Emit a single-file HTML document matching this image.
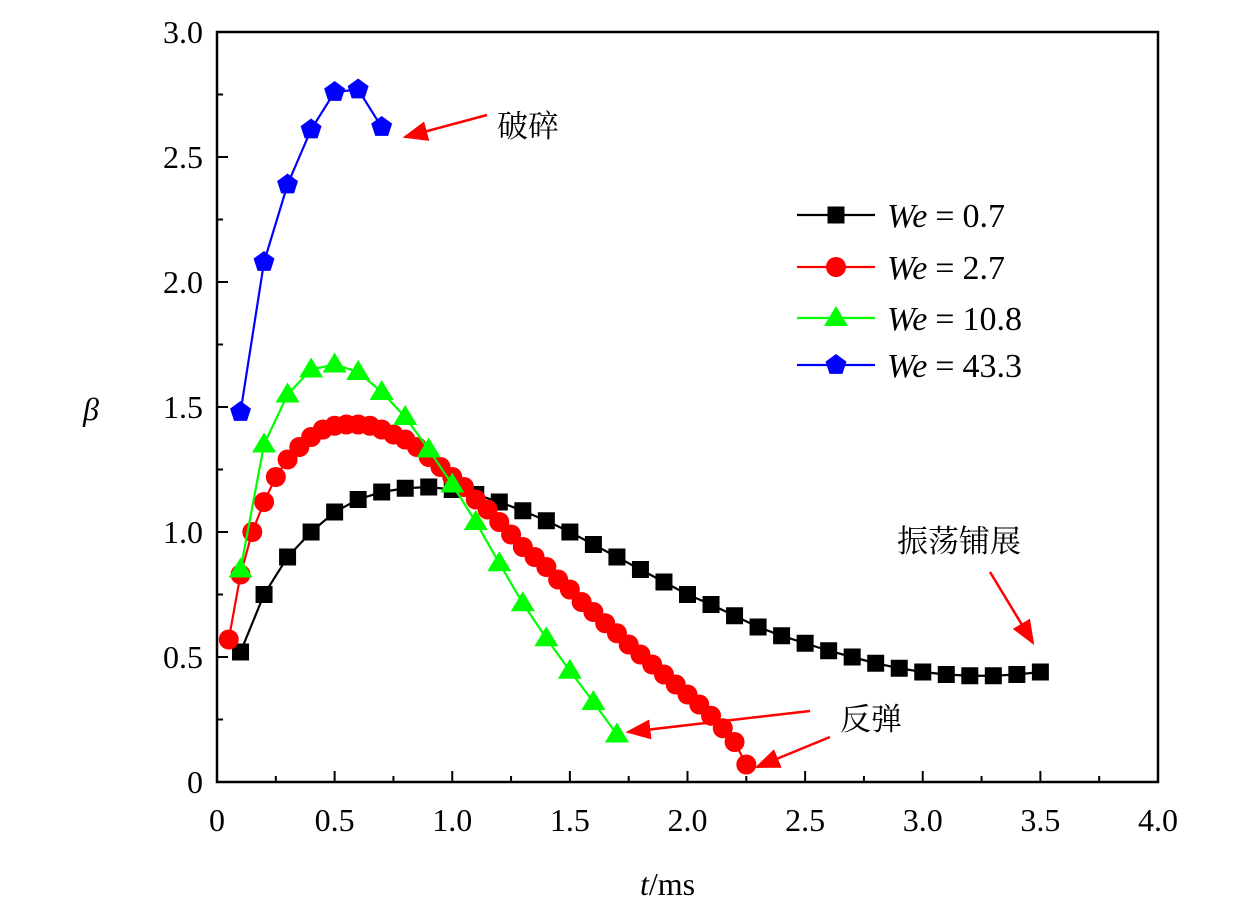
<!DOCTYPE html>
<html><head><meta charset="utf-8"><style>
body{margin:0;background:#fff}
svg text{font-family:"Liberation Serif","Noto Serif CJK SC",serif;fill:#000}
</style></head><body>
<svg width="1260" height="913" viewBox="0 0 1260 913" xmlns="http://www.w3.org/2000/svg">
<defs><marker id="ah" markerWidth="10" markerHeight="8" refX="9" refY="4" orient="auto"><path d="M0,0L10,4L0,8z" fill="#f00"/></marker></defs>
<g id="plot"></g>
<g id="axes"></g>
<text x="83" y="420" font-size="32" font-style="italic">β</text>
<text x="640" y="895" font-size="32"><tspan font-style="italic">t</tspan>/ms</text>
<g>
<text x="497" y="137" font-size="31">破碎</text>
<line x1="487" y1="115" x2="405" y2="137" stroke="#f00" stroke-width="2.5" marker-end="url(#ah)"/>
<text x="897" y="552" font-size="31">振荡铺展</text>
<line x1="990" y1="572" x2="1033" y2="643" stroke="#f00" stroke-width="2.5" marker-end="url(#ah)"/>
<text x="840" y="730" font-size="31">反弹</text>
<line x1="810" y1="711" x2="628" y2="732" stroke="#f00" stroke-width="2.5" marker-end="url(#ah)"/>
<line x1="830" y1="737" x2="757" y2="767" stroke="#f00" stroke-width="2.5" marker-end="url(#ah)"/>
</g>
<g id="legend"></g>
</svg>
<script>
const tBlack=[0.1,0.2,0.3,0.4,0.5,0.6,0.7,0.8,0.9,1.0,1.1,1.2,1.3,1.4,1.5,1.6,1.7,1.8,1.9,2.0,2.1,2.2,2.3,2.4,2.5,2.6,2.7,2.8,2.9,3.0,3.1,3.2,3.3,3.4,3.5];
const vBlack=[0.52,0.75,0.90,1.00,1.08,1.13,1.16,1.175,1.18,1.17,1.15,1.12,1.085,1.045,1.0,0.95,0.90,0.85,0.80,0.75,0.71,0.665,0.62,0.585,0.555,0.525,0.50,0.475,0.455,0.44,0.43,0.425,0.425,0.43,0.44];
const tRed=[0.05,0.1,0.15,0.2,0.25,0.3,0.35,0.4,0.45,0.5,0.55,0.6,0.65,0.7,0.75,0.8,0.85,0.9,0.95,1.0,1.05,1.1,1.15,1.2,1.25,1.3,1.35,1.4,1.45,1.5,1.55,1.6,1.65,1.7,1.75,1.8,1.85,1.9,1.95,2.0,2.05,2.1,2.15,2.2,2.25];
const vRed=[0.57,0.83,1.0,1.12,1.22,1.29,1.34,1.38,1.41,1.425,1.43,1.43,1.425,1.41,1.39,1.37,1.34,1.30,1.26,1.22,1.18,1.13,1.09,1.04,0.99,0.94,0.90,0.86,0.81,0.77,0.72,0.68,0.635,0.595,0.55,0.51,0.47,0.43,0.39,0.35,0.31,0.265,0.215,0.16,0.07];
const tGreen=[0.1,0.2,0.3,0.4,0.5,0.6,0.7,0.8,0.9,1.0,1.1,1.2,1.3,1.4,1.5,1.6,1.7];
const vGreen=[0.85,1.35,1.55,1.65,1.67,1.64,1.56,1.46,1.33,1.19,1.04,0.875,0.715,0.575,0.445,0.32,0.19];
const tBlue=[0.1,0.2,0.3,0.4,0.5,0.6,0.7];
const vBlue=[1.48,2.08,2.39,2.61,2.76,2.77,2.62];
const xTicks=["0","0.5","1.0","1.5","2.0","2.5","3.0","3.5","4.0"];
const yTicks=["0","0.5","1.0","1.5","2.0","2.5","3.0"];
const legendLabels=["0.7","2.7","10.8","43.3"];

const NS="http://www.w3.org/2000/svg";
const X0=217,X1=1158,Y0=782,Y1=32;
const sx=t=>X0+(X1-X0)*t/4, sy=v=>Y0-(Y0-Y1)*v/3;
function mk(tag,attrs,parent){const e=document.createElementNS(NS,tag);for(const k in attrs)e.setAttribute(k,attrs[k]);parent.appendChild(e);return e;}
const plot=document.getElementById('plot'),axes=document.getElementById('axes'),leg=document.getElementById('legend');
function marker(kind,x,y,color,parent){
 let e;
 if(kind==='sq'){e=mk('rect',{x:x-8.5,y:y-8.5,width:17,height:17,fill:color},parent);}
 else if(kind==='ci'){e=mk('circle',{cx:x,cy:y,r:10,fill:color},parent);}
 else if(kind==='tri'){e=mk('polygon',{points:`${x},${y-12} ${x+12},${y+8} ${x-12},${y+8}`,fill:color},parent);}
 else {let p=[];for(let i=0;i<5;i++){const a=-Math.PI/2+i*2*Math.PI/5;p.push((x+11*Math.cos(a))+','+(y+11*Math.sin(a)));}e=mk('polygon',{points:p.join(' '),fill:color},parent);}
 return e;
}
const series=[[tBlack,vBlack,'#000','sq','we-0.7'],[tRed,vRed,'#f00','ci','we-2.7'],[tGreen,vGreen,'#0f0','tri','we-10.8'],[tBlue,vBlue,'#00f','pent','we-43.3']];
series.forEach(([ts,vs,c,k,n])=>{
 const g=mk('g',{},plot);
 
 
 const ln=mk('polyline',{points:ts.map((t,i)=>sx(t)+','+sy(vs[i])).join(' '),fill:'none',stroke:c,'stroke-width':2.2},g);
 
 
 ts.forEach((t,i)=>{const m=marker(k,sx(t),sy(vs[i]),c,g);
  
  });
});
const fr=mk('rect',{x:X0,y:Y1,width:X1-X0,height:Y0-Y1,fill:'none',stroke:'#000','stroke-width':2.5},axes);


for(let i=0;i<=16;i++){const x=X0+(X1-X0)*i/16;mk('line',{x1:x,y1:Y0,x2:x,y2:Y0-(i%2?6:11),stroke:'#000','stroke-width':2},axes);}
for(let i=0;i<=12;i++){const y=Y0-(Y0-Y1)*i/12;mk('line',{x1:X0,y1:y,x2:X0+(i%2?6:11),y2:y,stroke:'#000','stroke-width':2},axes);}
xTicks.forEach((s,i)=>{const t=mk('text',{x:sx(i*0.5),y:831,'font-size':32,'text-anchor':'middle'},axes);t.textContent=s;
 
 });
yTicks.forEach((s,i)=>{const t=mk('text',{x:203,y:sy(i*0.5)+11,'font-size':32,'text-anchor':'end'},axes);t.textContent=s;
 
 });
legendLabels.forEach((s,i)=>{const y=[215,267,318,365][i];const [,,c,k,n]=series[i];
 const g=mk('g',{},leg);
 
 
 mk('line',{x1:797,y1:y,x2:875,y2:y,stroke:c,'stroke-width':2.2},g);
 marker(k,836,y,c,g);
 const t=mk('text',{x:887,y:y+12,'font-size':34},g);
 t.innerHTML='<tspan font-style="italic">We</tspan><tspan dx="8">=</tspan><tspan dx="8">'+s+'</tspan>';});
</script>
</body></html>
